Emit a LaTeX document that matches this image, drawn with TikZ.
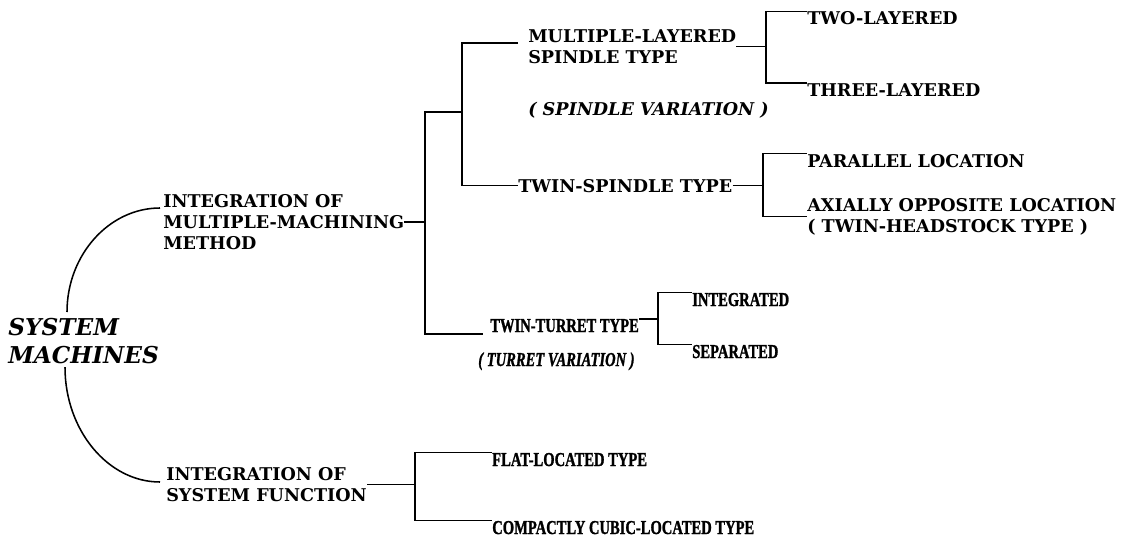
\documentclass[tikz,border=0pt]{standalone}
\usepackage{fontspec}
\newfontfamily\widefont{DejaVu Serif}
\newfontfamily\narrowfont{Liberation Serif}[FakeStretch=0.74,
  BoldFeatures={FakeBold=1.2}, BoldItalicFeatures={FakeBold=1.2}]
\usetikzlibrary{calc}

\tikzset{
  wide/.style={inner sep=0pt, align=left, font=\fontsize{12.5}{15}\selectfont\widefont\bfseries},
  wideit/.style={wide, font=\fontsize{12.5}{15}\selectfont\widefont\bfseries\itshape},
  slim/.style={inner sep=0pt, align=left, font=\fontsize{14}{15}\selectfont\narrowfont\bfseries},
  slimit/.style={slim, font=\fontsize{14}{15}\selectfont\narrowfont\bfseries\itshape},
  link/.style={line width=1.1pt},
}

\begin{document}
\begin{tikzpicture}[x=0.025cm, y=-0.025cm]
\useasboundingbox (0,0) rectangle (1133,539);

% root
\node[anchor=north west, inner sep=0pt, align=left,
  font=\fontsize{16.5}{20}\selectfont\widefont\bfseries\itshape] (sm) at (8,318) {SYSTEM\\MACHINES};

% first level
\node[wide, anchor=north west] (imm) at (163,194) {INTEGRATION OF\\MULTIPLE-MACHINING\\METHOD};
\node[wide, anchor=north west] (isf) at (166,467) {INTEGRATION OF\\SYSTEM FUNCTION};

% second level
\node[wide, anchor=north west] (mls) at (528,29) {MULTIPLE-LAYERED\\SPINDLE TYPE};
\node[wideit, anchor=base west] (spv) at (528,115) {( SPINDLE VARIATION )};
\node[wide, anchor=base west] (tsp) at (518,192) {TWIN-SPINDLE TYPE};
\node[slim, anchor=base west] (ttt) at (490,332) {TWIN-TURRET TYPE};
\node[slimit, anchor=base west] (tv) at (478,366) {( TURRET VARIATION )};
\node[slim, anchor=base west] (flat) at (492,466) {FLAT-LOCATED TYPE};
\node[slim, anchor=base west] (cub) at (492,534) {COMPACTLY CUBIC-LOCATED TYPE};

% leaves
\node[wide, anchor=base west] (two) at (807,25) {TWO-LAYERED};
\node[wide, anchor=base west] (three) at (807,96) {THREE-LAYERED};
\node[wide, anchor=base west] (par) at (807,167) {PARALLEL LOCATION};
\node[wide, anchor=north west] (axo) at (807,198) {AXIALLY OPPOSITE LOCATION\\( TWIN-HEADSTOCK TYPE )};
\node[slim, anchor=base west] (intg) at (692,306) {INTEGRATED};
\node[slim, anchor=base west] (sep) at (692,358) {SEPARATED};

% junctions
\coordinate (j1) at (425,223);
\coordinate (j2) at (462,112);
\coordinate (j3) at (766,47);
\coordinate (j4) at (763,184);
\coordinate (j5) at (658,320);
\coordinate (j6) at (415,485);

% curves from the root
\draw[link] ($(sm.north west)+(59,-6)$) .. controls +(0,-57) and +(-51,0) .. ($(imm.north west)+(-3,14)$);
\draw[link] ($(sm.south west)+(57,3)$) .. controls +(0,63) and +(-52,0) .. ($(isf.north west)+(-6,15)$);

% brackets
\draw[link] (imm.east) -- (imm.east -| j1);
\draw[link] (j2) -| (j1) |- ($(ttt.base west)+(-7,2)$);
\draw[link] ($(mls.north west)+(-10,14)$) -| (j2) |- (tsp.west);
\draw[link] (mls.east) -- (mls.east -| j3);
\draw[link] (two.north west) -| (j3) |- (three.north west);
\draw[link] (tsp.east) -- (tsp.east -| j4);
\draw[link] (par.north west) -| (j4) |- (axo.west);
\draw[link] (ttt.north east) -- (ttt.north east -| j5);
\draw[link] (intg.north west) -| (j5) |- (sep.north west);
\draw[link] (isf.east) -- (isf.east -| j6);
\draw[link] (flat.north west) -| (j6) |- (cub.north west);
\end{tikzpicture}
\end{document}
